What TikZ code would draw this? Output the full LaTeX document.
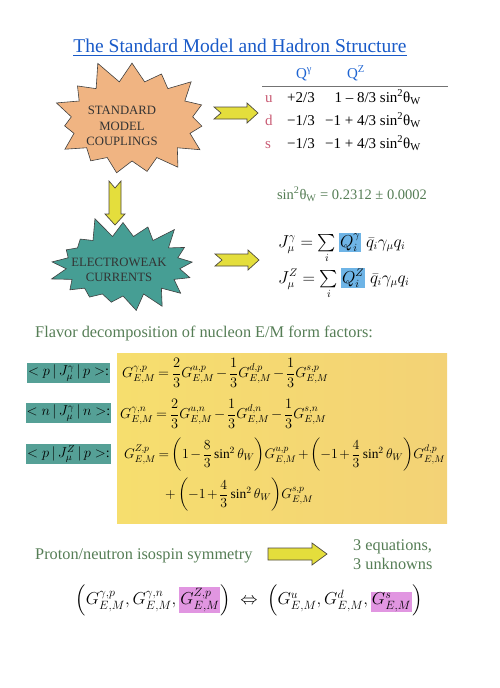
\documentclass[tikz,border=0pt]{standalone}
\usepackage{amsmath}
\usepackage{fontspec}
\setmainfont{Liberation Serif}
\usetikzlibrary{shapes.symbols,positioning,calc,backgrounds}

\definecolor{titleblue}{RGB}{25,90,200}
\definecolor{headblue}{RGB}{30,100,210}
\definecolor{flavpink}{RGB}{200,90,115}
\definecolor{notegreen}{RGB}{85,125,85}
\definecolor{burstorange}{RGB}{240,180,130}
\definecolor{burstteal}{RGB}{70,158,148}
\definecolor{arrowyellow}{RGB}{228,222,60}
\definecolor{qblue}{RGB}{110,180,230}
\definecolor{brateal}{RGB}{85,160,150}
\definecolor{formyellow}{RGB}{246,222,110}
\definecolor{formorange}{RGB}{243,210,118}
\definecolor{gpink}{RGB}{225,150,225}

\newcommand{\qbox}[1]{{\setlength{\fboxsep}{1pt}\colorbox{qblue}{$#1$}}}
\newcommand{\gbox}[1]{{\setlength{\fboxsep}{1pt}\colorbox{gpink}{$#1$}}}

\begin{document}
\begin{tikzpicture}[
  x=1pt, y=-1pt,
  title/.style={text=titleblue, font=\fontsize{19.5}{22}\selectfont, inner sep=0pt},
  burst/.style={starburst, draw=black!75, line width=0.6pt, inner sep=0pt},
  bursttext/.style={align=center, text=black!80, font=\fontsize{12.7}{15.5}\selectfont, inner sep=0pt},
  head/.style={text=headblue, font=\fontsize{15}{18}\selectfont, anchor=base},
  tabl/.style={font=\fontsize{15}{18}\selectfont, inner sep=0pt},
  note/.style={text=notegreen, font=\fontsize{16.3}{19}\selectfont, anchor=base west, inner sep=0pt},
  curr/.style={font=\fontsize{16}{19}\selectfont, anchor=base west, inner sep=0pt},
  bra/.style={fill=brateal, minimum width=83pt, minimum height=20pt, inner sep=1pt, font=\fontsize{14}{16}\selectfont},
  formbox/.style={left color=formyellow, right color=formorange, minimum width=330pt, minimum height=170pt, anchor=north west, inner sep=0pt},
  form/.style={font=\fontsize{14}{16}\selectfont, anchor=west, inner sep=0pt},
  arrowstyle/.style={fill=arrowyellow, draw=black!60!yellow!50!black, line width=0.7pt},
  notcharrow/.pic={\draw[arrowstyle] (0,-6) -- (33,-6) -- (33,-10) -- (44,0) -- (33,10) -- (33,6) -- (0,6) -- (7,0) -- cycle;},
  plainarrow/.pic={\draw[arrowstyle] (0,-6) -- (44,-6) -- (44,-11) -- (59,0) -- (44,11) -- (44,6) -- (0,6) -- cycle;}
]
\useasboundingbox (0,0) rectangle (500,688);

% title
\node[title, anchor=base] (ttl) at (240,52) {\underline{The Standard Model and Hadron Structure}};

% the two bursts
\node[burst, fill=burstorange, minimum width=170pt, minimum height=128pt, starburst points=15, starburst point height=24pt, random starburst=11] (smc) at (132,121) {};
\node[bursttext] (smct) at (122,126) {STANDARD\\MODEL\\COUPLINGS};
\node[burst, fill=burstteal, minimum width=158pt, minimum height=104pt, starburst points=17, starburst point height=22pt, random starburst=5] (ewc) at (123,266) {};
\node[bursttext] (ewct) at (119,270) {ELECTROWEAK\\CURRENTS};

\pic at (214,113) {notcharrow};
\pic[rotate=-90] at (115,181) {notcharrow};
\pic at (215,260) {notcharrow};

% coupling table
\node[head] (qg) at (304,78) {Q\textsuperscript{γ}};
\node[head] (qz) at (356,78) {Q\textsuperscript{Z}};
\draw[black!55, line width=0.8pt] (262,86) -- (448,86);

\node[tabl, anchor=base west, text=flavpink] (fu) at (265,102) {u};
\node[tabl, anchor=base west, text=flavpink] (fd) at (265,125) {d};
\node[tabl, anchor=base west, text=flavpink] (fs) at (265,148) {s};
\node[tabl, anchor=base] (qgu) at (301,102) {+2/3};
\node[tabl, anchor=base] (qgd) at (301,125) {−1/3};
\node[tabl, anchor=base] (qgs) at (301,148) {−1/3};
\node[tabl, anchor=base east] (qzu) at (421,102) {1 – 8/3 sin\textsuperscript{2}θ\textsubscript{W}};
\node[tabl, anchor=base east] (qzd) at (421,125) {−1 + 4/3 sin\textsuperscript{2}θ\textsubscript{W}};
\node[tabl, anchor=base east] (qzs) at (421,148) {−1 + 4/3 sin\textsuperscript{2}θ\textsubscript{W}};

\node[note, anchor=base, font=\fontsize{14.5}{17}\selectfont] (sw) at (352,199) {sin\textsuperscript{2}θ\textsubscript{W} = 0.2312 ± 0.0002};

% currents
\node[curr] (jg) at (278,247) {$J^{\gamma}_{\mu} = \sum\limits_{i}\qbox{Q^{\gamma}_{i}}\;\bar{q}_{i}\gamma_{\mu}q_{i}$};
\node[curr] (jz) at (278,283) {$J^{Z}_{\mu} = \sum\limits_{i}\qbox{Q^{Z}_{i}}\;\bar{q}_{i}\gamma_{\mu}q_{i}$};

\node[note] (flv) at (35,337) {Flavor decomposition of nucleon E/M form factors:};

% form factors
\node[formbox] (ffbox) at (117,353) {};
\node[bra] (bp) at (68.5,373) {$<p\,|\,J^{\gamma}_{\mu}\,|\,p>$:};
\node[bra] (bn) at (68.5,413) {$<n\,|\,J^{\gamma}_{\mu}\,|\,n>$:};
\node[bra] (bz) at (68.5,454) {$<p\,|\,J^{Z}_{\mu}\,|\,p>$:};

\begin{scope}[every node/.append style={execute at begin node={\medmuskip=2mu\thickmuskip=3.5mu}}]
\node[form] (e1) at (122,373) {$G^{\gamma,p}_{E,M}=\dfrac{2}{3}G^{u,p}_{E,M}-\dfrac{1}{3}G^{d,p}_{E,M}-\dfrac{1}{3}G^{s,p}_{E,M}$};
\node[form] (e2) at (120,414) {$G^{\gamma,n}_{E,M}=\dfrac{2}{3}G^{u,n}_{E,M}-\dfrac{1}{3}G^{d,n}_{E,M}-\dfrac{1}{3}G^{s,n}_{E,M}$};
\node[form, scale=0.96, transform shape] (e3) at (124,455) {$G^{Z,p}_{E,M}=\left(1-\dfrac{8}{3}\sin^{2}\theta_{W}\right)\!G^{u,p}_{E,M}+\left(-1+\dfrac{4}{3}\sin^{2}\theta_{W}\right)\!G^{d,p}_{E,M}$};
\node[form, scale=0.96, transform shape] (e4) at (165,495) {$+\left(-1+\dfrac{4}{3}\sin^{2}\theta_{W}\right)\!G^{s,p}_{E,M}$};
\end{scope}

% isospin
\node[note] (iso) at (35,559) {Proton/neutron isospin symmetry};
\pic at (268,554) {plainarrow};
\node[note] (eq1) at (353,550) {3 equations,};
\node[note] (eq2) at (353,569) {3 unknowns};

\node[font=\fontsize{16.5}{19}\selectfont] (sol) at (249,600) {$\left(G^{\gamma,p}_{E,M},G^{\gamma,n}_{E,M},\gbox{G^{Z,p}_{E,M}}\right)\;\Leftrightarrow\;\left(G^{u}_{E,M},G^{d}_{E,M},\gbox{G^{s}_{E,M}}\right)$};
\end{tikzpicture}
\end{document}
